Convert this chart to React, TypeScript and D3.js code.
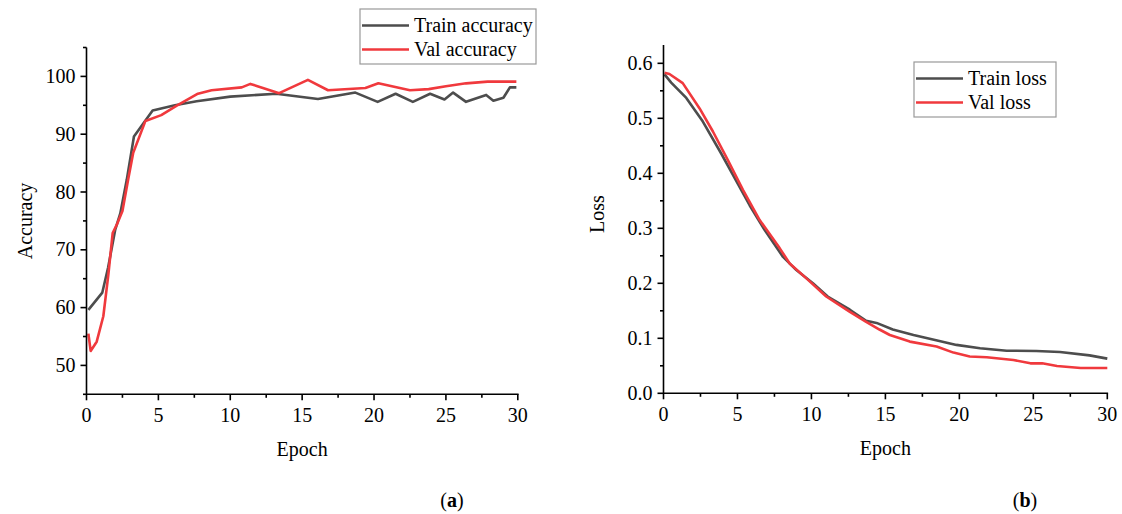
import React from "react";
import * as d3 from "d3";

const trainAccEpoch = [0.13, 1.1, 1.5, 2.0, 2.35, 2.8, 3.3, 4.6, 6.15, 7.66, 10, 13.2, 16.1, 18.7, 20.25, 21.5, 22.7, 23.9, 24.9, 25.5, 26.4, 27.8, 28.3, 29.0, 29.45, 29.9];
const trainAcc = [59.6, 62.6, 66.9, 73.5, 76.3, 82.1, 89.6, 94.1, 95.0, 95.7, 96.5, 97.0, 96.1, 97.2, 95.6, 97.0, 95.6, 97.0, 96.0, 97.2, 95.6, 96.8, 95.8, 96.3, 98.1, 98.1];

const valAccEpoch = [0.13, 0.29, 0.71, 1.17, 1.52, 1.82, 2.1, 2.5, 2.9, 3.25, 4.1, 5.2, 6.25, 7.75, 8.7, 10.8, 11.4, 13.4, 15.4, 16.8, 19.4, 20.3, 22.5, 23.8, 25.0, 26.4, 27.9, 29.9];
const valAcc = [55.5, 52.5, 54.1, 58.5, 65.7, 72.9, 74.3, 76.7, 82.2, 86.8, 92.3, 93.3, 94.9, 97.0, 97.6, 98.1, 98.7, 97.1, 99.4, 97.6, 98.0, 98.8, 97.6, 97.8, 98.3, 98.8, 99.1, 99.1];

const trainLossEpoch = [0.07, 0.52, 1.54, 2.66, 3.9, 5.82, 6.84, 8.08, 8.98, 10.1, 11.1, 12.6, 13.7, 14.4, 15.5, 16.9, 18.5, 19.8, 21.4, 23.2, 25.2, 26.8, 28.8, 30];
const trainLoss = [0.58, 0.565, 0.537, 0.494, 0.436, 0.342, 0.297, 0.248, 0.224, 0.2, 0.176, 0.152, 0.132, 0.128, 0.116, 0.106, 0.096, 0.088, 0.082, 0.0775, 0.077, 0.075, 0.069, 0.063];

const valLossEpoch = [0.07, 0.4, 1.3, 2.44, 3.34, 4.35, 5.37, 6.5, 7.85, 8.53, 9.66, 11.0, 12.6, 13.7, 14.6, 15.3, 16.65, 18.46, 19.6, 20.7, 21.85, 23.65, 24.8, 25.6, 26.6, 28.2, 30];
const valLoss = [0.583, 0.5805, 0.564, 0.518, 0.476, 0.424, 0.37, 0.315, 0.264, 0.236, 0.209, 0.176, 0.148, 0.13, 0.116, 0.106, 0.094, 0.085, 0.074, 0.067, 0.0655, 0.0605, 0.0545, 0.0545, 0.0497, 0.046, 0.046];

const epochTicks = [0, 5, 10, 15, 20, 25, 30];
const accTicks = [50, 60, 70, 80, 90, 100];
const lossTicks = [0, 0.1, 0.2, 0.3, 0.4, 0.5, 0.6];

const GRAY = "#4d4d4d";
const RED = "#f0393d";
const FONT = "'Liberation Serif', 'Times New Roman', serif";

type PanelProps = {
  x0: number; x1: number; yTop: number; yBottom: number;
  yDomain: [number, number];
  yTicks: number[]; yMinorStep: number; yFormat: (v: number) => string;
  yLabel: string; yLabelX: number; yLabelY: number;
  series: { ex: number[]; ey: number[]; color: string }[];
  legend: { x: number; y: number; w: number; h: number; labels: string[] };
  panel: string; panelX: number;
};

function Panel(p: PanelProps) {
  const xs = d3.scaleLinear().domain([0, 30]).range([p.x0, p.x1]);
  const ys = d3.scaleLinear().domain(p.yDomain).range([p.yBottom, p.yTop]);
  const xMinor = d3.range(0, 30.001, 2.5).filter((v) => Math.abs(v % 5) > 1e-6);
  const yMinor = d3.range(p.yDomain[0], p.yDomain[1] + 1e-9, p.yMinorStep)
    .map((v) => Math.round(v / p.yMinorStep) * p.yMinorStep)
    .filter((v) => !p.yTicks.some((t) => Math.abs(t - v) < 1e-9) && v >= p.yDomain[0] - 1e-9 && v <= p.yDomain[1]);
  const minorY = d3.range(Math.ceil(p.yDomain[0] / p.yMinorStep), Math.floor(p.yDomain[1] / p.yMinorStep) + 1)
    .map((k) => k * p.yMinorStep)
    .filter((v) => !p.yTicks.some((t) => Math.abs(t - v) < 1e-9));
  void yMinor;
  const line = d3.line<[number, number]>().x((d) => xs(d[0])).y((d) => ys(d[1]));
  const axisY = p.yBottom;
  return (
    <g>
      {p.series.map((s, i) => (
        <path key={i} d={line(s.ex.map((e, j) => [e, s.ey[j]] as [number, number])) || ""}
          fill="none" stroke={s.color} strokeWidth={2.6} strokeLinejoin="round" />
      ))}
      {/* axes */}
      <line x1={p.x0} x2={p.x1 + 0.8} y1={axisY} y2={axisY} stroke="#000" strokeWidth={1.6} />
      <line x1={p.x0} x2={p.x0} y1={p.yTop} y2={axisY + 0.8} stroke="#000" strokeWidth={1.6} />
      {epochTicks.map((t) => (
        <g key={"xt" + t}>
          <line x1={xs(t)} x2={xs(t)} y1={axisY} y2={axisY + 6} stroke="#000" strokeWidth={1.6} />
          <text x={xs(t)} y={axisY + 28} textAnchor="middle" fontSize={20} fontFamily={FONT}>{t}</text>
        </g>
      ))}
      {xMinor.map((t) => (
        <line key={"xm" + t} x1={xs(t)} x2={xs(t)} y1={axisY} y2={axisY + 3.5} stroke="#000" strokeWidth={1.6} />
      ))}
      {p.yTicks.map((t) => (
        <g key={"yt" + t}>
          <line x1={p.x0 - 6} x2={p.x0} y1={ys(t)} y2={ys(t)} stroke="#000" strokeWidth={1.6} />
          <text x={p.x0 - 11} y={ys(t) + 6.5} textAnchor="end" fontSize={20} fontFamily={FONT}>{p.yFormat(t)}</text>
        </g>
      ))}
      {minorY.map((t) => (
        <line key={"ym" + t} x1={p.x0 - 3.5} x2={p.x0} y1={ys(t)} y2={ys(t)} stroke="#000" strokeWidth={1.6} />
      ))}
      <text x={(p.x0 + p.x1) / 2} y={axisY + 62} textAnchor="middle" fontSize={20} fontFamily={FONT}>Epoch</text>
      <text transform={`translate(${p.yLabelX},${p.yLabelY}) rotate(-90)`} textAnchor="middle" fontSize={20} fontFamily={FONT}>{p.yLabel}</text>
      {/* legend */}
      <rect x={p.legend.x} y={p.legend.y} width={p.legend.w} height={p.legend.h} fill="#fff" stroke="#999" strokeWidth={1.2} />
      {p.legend.labels.map((lab, i) => {
        const cy = p.legend.y + 16.5 + i * 24;
        return (
          <g key={lab}>
            <line x1={p.legend.x + 2} x2={p.legend.x + 49} y1={cy} y2={cy} stroke={p.series[i].color} strokeWidth={2.6} />
            <text x={p.legend.x + 54} y={cy + 6.5} fontSize={20} fontFamily={FONT}>{lab}</text>
          </g>
        );
      })}
      <text x={p.panelX} y={507} textAnchor="middle" fontSize={20} fontFamily={FONT}>
        (<tspan fontWeight="bold">{p.panel}</tspan>)
      </text>
    </g>
  );
}

export default function App() {
  return (
    <svg width={1122} height={514} style={{ position: "absolute", left: 0, top: 0, background: "#fff" }}>
      <rect width={1122} height={514} fill="#fff" />
      <Panel
        x0={86.5} x1={517.8} yTop={47.5} yBottom={394.3}
        yDomain={[45, 105]} yTicks={accTicks} yMinorStep={5} yFormat={(v) => String(v)}
        yLabel="Accuracy" yLabelX={32} yLabelY={221}
        series={[{ ex: trainAccEpoch, ey: trainAcc, color: GRAY }, { ex: valAccEpoch, ey: valAcc, color: RED }]}
        legend={{ x: 360, y: 9, w: 176, h: 55, labels: ["Train accuracy", "Val accuracy"] }}
        panel="a" panelX={452}
      />
      <Panel
        x0={663.5} x1={1107.3} yTop={45} yBottom={393.3}
        yDomain={[0, 0.6333]} yTicks={lossTicks} yMinorStep={0.05} yFormat={(v) => v.toFixed(1)}
        yLabel="Loss" yLabelX={604} yLabelY={214}
        series={[{ ex: trainLossEpoch, ey: trainLoss, color: GRAY }, { ex: valLossEpoch, ey: valLoss, color: RED }]}
        legend={{ x: 914, y: 62, w: 142, h: 55, labels: ["Train loss", "Val loss"] }}
        panel="b" panelX={1025}
      />
    </svg>
  );
}
